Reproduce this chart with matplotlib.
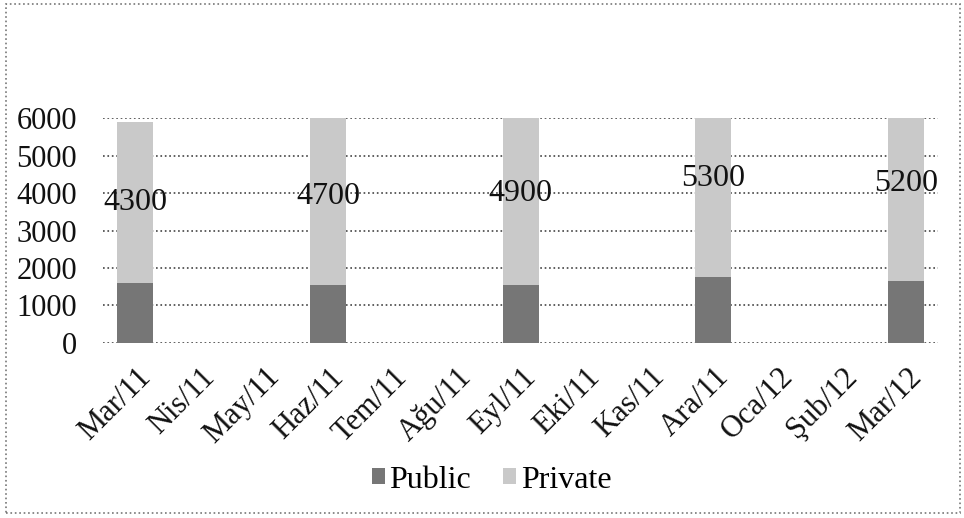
import matplotlib
matplotlib.use("Agg")
import matplotlib.pyplot as plt
import matplotlib.transforms as mtransforms
from matplotlib.patches import Rectangle
import numpy as np

# aylar ve seriler
months = ["Mar/11", "Nis/11", "May/11", "Haz/11", "Tem/11", "Ağu/11", "Eyl/11",
          "Eki/11", "Kas/11", "Ara/11", "Oca/12", "Şub/12", "Mar/12"]
public = [1600, 0, 0, 1550, 0, 0, 1550, 0, 0, 1750, 0, 0, 1650]
private = [4300, 0, 0, 4700, 0, 0, 4900, 0, 0, 5300, 0, 0, 5200]

plt.rcParams['font.family'] = ['Liberation Serif', 'DejaVu Serif']

fig = plt.figure(figsize=(9.64, 5.18), dpi=100)
ax = fig.add_axes([0.107, 0.338, 0.866, 0.434])

x = np.arange(len(months))
ax.bar(x, public, width=0.56, color="#767676", label="Public", zorder=2)
ax.bar(x, private, width=0.56, bottom=public, color="#c9c9c9", label="Private", zorder=2)

# etiketler: Private diliminin ortasinda
for i in range(len(months)):
    if private[i] != 0:
        ax.text(x[i], public[i] + private[i] / 2, str(private[i]),
                ha="center", va="center", fontsize=23, color="#111111",
                zorder=3, clip_on=False)

ax.set_xlim(-0.5, len(months) - 0.5)
ax.set_ylim(0, 6000)
ax.set_yticks(np.arange(0, 6001, 1000))
ax.yaxis.grid(True, linestyle=":", color="#444444", linewidth=1.2, zorder=1)
ax.set_axisbelow(True)
for s in ax.spines.values():
    s.set_visible(False)
ax.tick_params(axis="both", length=0, labelsize=22, colors="#111111")
ax.tick_params(axis="y", pad=19)

ax.set_xticks(x)
ax.set_xticklabels(months, rotation=45, ha="right", va="center",
                   rotation_mode="anchor", fontsize=22)
offset = mtransforms.ScaledTranslation(8 / 72, -18 / 72, fig.dpi_scale_trans)
for lbl in ax.get_xticklabels():
    lbl.set_transform(lbl.get_transform() + offset)

fig.legend(loc="center", bbox_to_anchor=(0.51, 0.073), ncol=2, frameon=False,
           fontsize=23, handlelength=0.4, handleheight=0.4, handletextpad=0.15,
           columnspacing=1.0)

# dis cerceve
fig.patches.append(Rectangle((0.006, 0.01), 0.99, 0.982, transform=fig.transFigure,
                             fill=False, linestyle=":", edgecolor="#777777",
                             linewidth=1.2))

fig.savefig("out.png", dpi=100)
